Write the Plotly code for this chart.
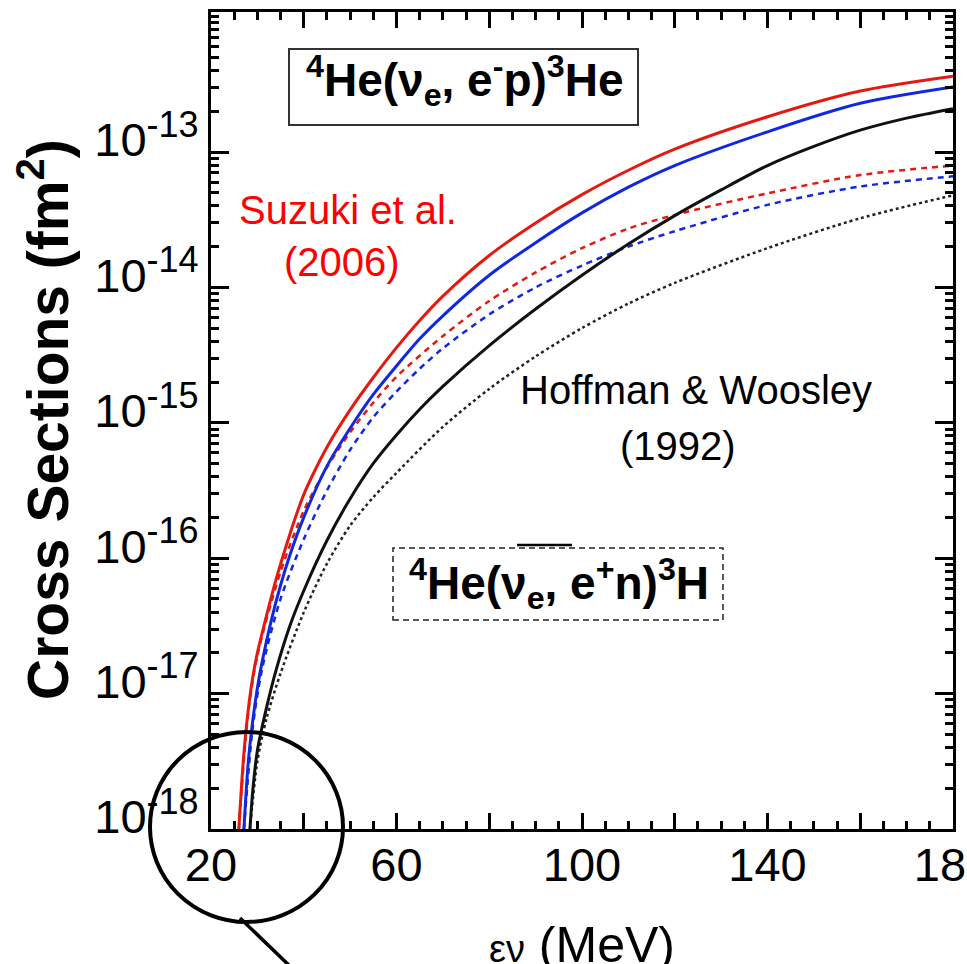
import plotly.graph_objects as go

# ---------------- data ----------------
# 4He(nu_e, e- p)3He  -- solid curves
E_red_solid = [26, 27, 28, 29, 30, 32, 34, 36, 38, 40, 42, 45, 50, 55, 60, 65, 70, 80, 90, 100, 110, 120, 140, 160, 180]
S_red_solid = [1.0e-18, 3.31e-18, 7.41e-18, 1.32e-17, 2.00e-17, 3.80e-17, 6.92e-17, 1.17e-16, 1.91e-16,
               2.95e-16, 4.17e-16, 6.61e-16, 1.245e-15, 2.16e-15, 3.59e-15, 5.69e-15, 8.61e-15, 1.72e-14,
               2.99e-14, 4.84e-14, 7.33e-14, 1.05e-13, 1.82e-13, 2.82e-13, 3.63e-13]

E_blue_solid = [27.1, 28, 29, 30, 31, 33, 35, 37, 40, 45, 50, 55, 60, 65, 70, 80, 90, 100, 110, 120, 140, 160, 180]
S_blue_solid = [1.0e-18, 3.02e-18, 6.31e-18, 1.10e-17, 1.70e-17, 3.47e-17, 6.31e-17, 1.05e-16, 2.00e-16,
                4.79e-16, 9.12e-16, 1.62e-15, 2.63e-15, 4.17e-15, 6.17e-15, 1.23e-14, 2.14e-14, 3.55e-14,
                5.50e-14, 7.94e-14, 1.41e-13, 2.29e-13, 3.02e-13]

E_black_solid = [28.4, 29, 30, 32, 34, 37, 40, 45, 50, 55, 60, 65, 70, 80, 90, 100, 110, 120, 130, 140, 150, 160, 170, 180]
S_black_solid = [1.0e-18, 1.91e-18, 3.80e-18, 7.94e-18, 1.48e-17, 3.16e-17, 5.75e-17, 1.35e-16, 2.75e-16,
                 5.01e-16, 8.13e-16, 1.26e-15, 1.86e-15, 3.72e-15, 6.92e-15, 1.23e-14, 2.09e-14, 3.39e-14,
                 5.25e-14, 7.94e-14, 1.10e-13, 1.45e-13, 1.78e-13, 2.09e-13]

# 4He(nu_e, e+ n)3H  -- dashed / dotted curves
E_red_dash = [26, 28, 30, 35, 40, 45, 50, 55, 60, 70, 80, 90, 100, 110, 120, 140, 160, 180]
S_red_dash = [1.0e-18, 7.08e-18, 1.91e-17, 7.94e-17, 2.24e-16, 4.68e-16, 8.51e-16, 1.41e-15, 2.19e-15,
              4.37e-15, 7.94e-15, 1.29e-14, 1.95e-14, 2.72e-14, 3.43e-14, 4.95e-14, 6.76e-14, 7.94e-14]

E_blue_dash = [27.1, 29, 31, 35, 40, 45, 50, 55, 60, 65, 70, 80, 90, 100, 110, 120, 140, 160, 180]
S_blue_dash = [1.0e-18, 5.62e-18, 1.51e-17, 5.01e-17, 1.38e-16, 3.16e-16, 6.31e-16, 1.10e-15, 1.70e-15,
               2.51e-15, 3.55e-15, 6.31e-15, 1.00e-14, 1.45e-14, 2.00e-14, 2.60e-14, 4.07e-14, 5.56e-14, 6.61e-14]

E_black_dot = [28.4, 30, 32, 35, 40, 45, 50, 55, 60, 70, 80, 90, 100, 110, 120, 140, 160, 180]
S_black_dot = [1.0e-18, 3.16e-18, 6.61e-18, 1.41e-17, 3.98e-17, 9.12e-17, 1.74e-16, 2.82e-16, 4.27e-16,
               9.33e-16, 1.78e-15, 3.09e-15, 5.01e-15, 7.59e-15, 1.08e-14, 1.95e-14, 3.24e-14, 4.79e-14]

x_tickvals = [20, 40, 60, 80, 100, 120, 140, 160, 180]
x_ticktext = ["20", "", "60", "", "100", "", "140", "", "180"]
y_tickvals = [1e-18, 1e-17, 1e-16, 1e-15, 1e-14, 1e-13]
y_exponents = ["-18", "-17", "-16", "-15", "-14", "-13"]
y_ticktext = ["10<sup><span style='font-size:36px'>%s</span></sup>" % e for e in y_exponents]

# ---------------- figure ----------------
FONT = "Liberation Sans, Arial, sans-serif"
RED = "#e41a10"
BLUE = "#1028e0"
BLACK = "#111111"

fig = go.Figure()


def add(x, y, color, dash, width):
    fig.add_trace(go.Scatter(x=x, y=y, mode="lines",
                             line=dict(color=color, dash=dash, width=width, shape="spline", smoothing=0.8),
                             showlegend=False, hoverinfo="skip"))


add(E_black_dot, S_black_dot, "#222222", "dot", 2.5)
add(E_blue_dash, S_blue_dash, BLUE, "6px,5px", 2.5)
add(E_red_dash, S_red_dash, RED, "6px,5px", 2.5)
add(E_black_solid, S_black_solid, BLACK, "solid", 3)
add(E_blue_solid, S_blue_solid, BLUE, "solid", 3)
add(E_red_solid, S_red_solid, RED, "solid", 3)

L, R, T, B = 211, 14, 12, 135
W, H = 967, 964
pw, ph = W - L - R, H - T - B


def px(xpix):
    return (xpix - L) / pw


def py(ypix):
    return (T + ph - ypix) / ph


fig.update_layout(
    width=W, height=H,
    margin=dict(l=L, r=R, t=T, b=B, autoexpand=False),
    paper_bgcolor="white", plot_bgcolor="white",
    font=dict(family=FONT, color="black"),
    xaxis=dict(
        range=[20, 180], showgrid=False, zeroline=False, automargin=False,
        showline=True, linewidth=3, linecolor="black", mirror="ticks",
        ticks="inside", ticklen=16, tickwidth=3, tickcolor="black",
        tickvals=x_tickvals, ticktext=x_ticktext,
        tickfont=dict(size=47, family=FONT, color="black"),
        ticklabeloverflow="allow", ticklabelstandoff=-7,
        minor=dict(dtick=5, tick0=20, ticks="inside", ticklen=8, tickwidth=2.5, tickcolor="black", showgrid=False),
    ),
    yaxis=dict(
        type="log", range=[-18, -11.966], showgrid=False, zeroline=False, automargin=False,
        showline=True, linewidth=3, linecolor="black", mirror="ticks",
        ticks="inside", ticklen=18, tickwidth=3, tickcolor="black",
        tickvals=y_tickvals, ticktext=y_ticktext,
        tickfont=dict(size=47, family=FONT, color="black"),
        ticklabelshift=-12, ticklabeloverflow="allow",
        minor=dict(dtick="D1", ticks="inside", ticklen=8, tickwidth=2.5, tickcolor="black", showgrid=False),
    ),
)

shapes = []
# solid box around the e-p reaction label
shapes.append(dict(type="rect", xref="paper", yref="paper",
                   x0=px(289), x1=px(638), y0=py(125), y1=py(49),
                   line=dict(color="#333333", width=2), fillcolor="rgba(0,0,0,0)"))
# dashed box around the e+n reaction label
shapes.append(dict(type="rect", xref="paper", yref="paper",
                   x0=px(393), x1=px(723), y0=py(620), y1=py(548),
                   line=dict(color="#222222", width=1.5, dash="6px,4px"), fillcolor="rgba(0,0,0,0)"))
# short line above dashed box
shapes.append(dict(type="line", xref="paper", yref="paper",
                   x0=px(517), x1=px(572), y0=py(545), y1=py(545),
                   line=dict(color="black", width=2.5)))
# circle near threshold
shapes.append(dict(type="circle", xref="paper", yref="paper",
                   x0=px(150), x1=px(343), y0=py(922), y1=py(732),
                   line=dict(color="black", width=4), fillcolor="rgba(0,0,0,0)"))
# pointer line
shapes.append(dict(type="line", xref="paper", yref="paper",
                   x0=px(240), x1=px(296), y0=py(918), y1=py(972),
                   line=dict(color="black", width=3.5)))
fig.update_layout(shapes=shapes)

ann = []
ann.append(dict(xref="paper", yref="paper", x=px(465), y=py(80), xanchor="center", yanchor="middle",
                text="<b><sup>4</sup>He(ν<sub>e</sub>, e<sup>-</sup>p)<sup>3</sup>He</b>",
                showarrow=False, font=dict(size=46, family=FONT, color="black")))
ann.append(dict(xref="paper", yref="paper", x=px(559), y=py(583), xanchor="center", yanchor="middle",
                text="<b><sup>4</sup>He(ν<sub>e</sub>, e<sup>+</sup>n)<sup>3</sup>H</b>",
                showarrow=False, font=dict(size=46, family=FONT, color="black")))
ann.append(dict(xref="paper", yref="paper", x=px(348), y=py(210), xanchor="center", yanchor="middle",
                text="Suzuki et al.", showarrow=False, font=dict(size=40, family=FONT, color="#ff0000")))
ann.append(dict(xref="paper", yref="paper", x=px(342), y=py(262), xanchor="center", yanchor="middle",
                text="(2006)", showarrow=False, font=dict(size=40, family=FONT, color="#ff0000")))
ann.append(dict(xref="paper", yref="paper", x=px(696), y=py(390), xanchor="center", yanchor="middle",
                text="Hoffman &amp; Woosley", showarrow=False, font=dict(size=40, family=FONT, color="black")))
ann.append(dict(xref="paper", yref="paper", x=px(678), y=py(446), xanchor="center", yanchor="middle",
                text="(1992)", showarrow=False, font=dict(size=40, family=FONT, color="black")))
# axis titles
ann.append(dict(xref="paper", yref="paper", x=px(44), y=py(420), xanchor="center", yanchor="middle",
                text="<b>Cross Sections (fm<sup>2</sup>)</b>", textangle=-90, showarrow=False,
                font=dict(size=57, family=FONT, color="black")))
ann.append(dict(xref="paper", yref="paper", x=px(582), y=py(945), xanchor="center", yanchor="middle",
                text="<span style='font-size:38px'>εν</span> (MeV)", showarrow=False,
                font=dict(size=50, family=FONT, color="black")))
fig.update_layout(annotations=ann)

fig.write_html("out.html")
